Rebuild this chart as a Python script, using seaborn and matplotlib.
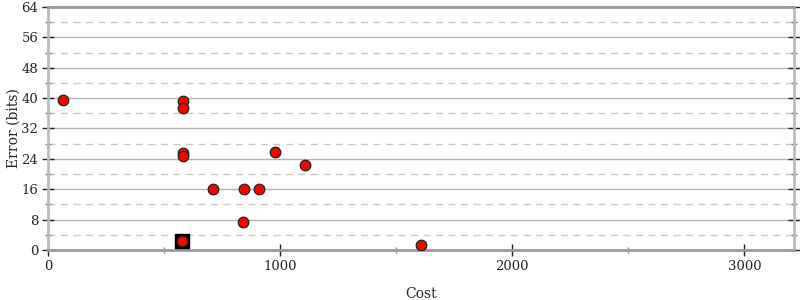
import matplotlib
matplotlib.use("Agg")
import matplotlib.pyplot as plt
import seaborn as sns
import pandas as pd
from matplotlib.ticker import MultipleLocator

sns.set_theme(style="white")
plt.rcParams['font.family'] = ['DejaVu Serif']

cost = [65, 583, 583, 583, 583, 713, 845, 907, 976, 1108, 841, 1608, 577]
error = [39.5, 39.3, 37.5, 25.6, 24.7, 16.0, 16.0, 16.0, 25.7, 22.4, 7.45, 1.4, 2.3]
best_cost = [577]
best_error = [2.3]

df = pd.DataFrame({"Cost": cost, "Error": error})
best = pd.DataFrame({"Cost": best_cost, "Error": best_error})

fig = plt.figure(figsize=(8, 3), dpi=100)
ax = fig.add_axes([0.06, 0.1667, 0.9325, 0.81])

# grid
for y in range(8, 64, 8):
    ax.axhline(y, color="#b4b4b4", lw=1.0, zorder=0)
for y in range(4, 64, 8):
    ax.axhline(y, color="#c8c8c8", lw=1.0, ls=(0, (5, 4)), zorder=0)

sns.scatterplot(data=best, x="Cost", y="Error", marker="s", s=110, color="black",
                edgecolor="black", linewidth=1, ax=ax, zorder=3, legend=False)
sns.scatterplot(data=df, x="Cost", y="Error", marker="o", s=58, color="#ff0000",
                edgecolor="#222222", linewidth=0.9, ax=ax, zorder=4, legend=False)

ax.set_xlim(0, 3214)
ax.set_ylim(0, 64)
ax.xaxis.set_major_locator(MultipleLocator(1000))
ax.xaxis.set_minor_locator(MultipleLocator(500))
ax.yaxis.set_major_locator(MultipleLocator(8))
ax.yaxis.set_minor_locator(MultipleLocator(4))

ax.tick_params(axis="both", which="major", direction="inout", length=8, width=1,
               color="#222222", labelsize=9.5, pad=3)
ax.tick_params(axis="both", which="minor", direction="inout", length=4, width=1,
               color="#888888")
ax.tick_params(axis="y", which="both", left=True, right=True)
ax.tick_params(axis="x", which="both", bottom=True, top=False)

for side in ["left", "right"]:
    ax.spines[side].set_color("#bbbbbb")
    ax.spines[side].set_linewidth(2)
for side in ["top", "bottom"]:
    ax.spines[side].set_color("#999999")
    ax.spines[side].set_linewidth(2)

ax.set_xlabel("Cost", fontsize=10, labelpad=10)
ax.set_ylabel("Error (bits)", fontsize=10)
ax.yaxis.set_label_coords(-0.036, 0.5)

fig.savefig("out.png", dpi=100)
